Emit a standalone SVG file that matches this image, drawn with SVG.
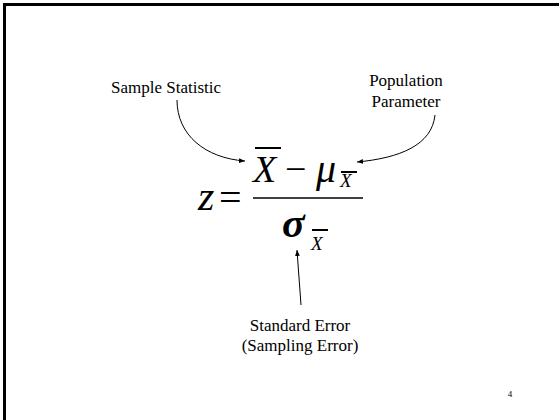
<svg xmlns="http://www.w3.org/2000/svg" width="559" height="420" viewBox="0 0 559 420">
<style>
text{font-family:'Liberation Serif','DejaVu Serif',serif;fill:#000}
.lbl{font-size:17px;text-anchor:middle}
.i{font-style:italic}
.conn{fill:none;stroke:#000;stroke-width:1}
.bar{stroke:#000;stroke-width:2}
</style>
<defs>
<marker id="ah" viewBox="0 0 10 10" refX="10" refY="5" markerWidth="6" markerHeight="6" orient="auto" markerUnits="userSpaceOnUse">
<path d="M0,1 L10,5 L0,9 Z" fill="#000"/>
</marker>
</defs>
<rect width="559" height="420" fill="#fff"/>
<path d="M4.5,420 V4.5 H559" fill="none" stroke="#000" stroke-width="3"/>
<g id="sample-statistic"><text class="lbl" x="166" y="93">Sample Statistic</text></g>
<g id="population-parameter"><text class="lbl" x="406" y="86">Population</text><text class="lbl" x="406" y="107">Parameter</text></g>
<g id="formula">
<text class="i" x="198" y="210" font-size="42">z</text>
<text x="219" y="211" font-size="40">=</text>
<text class="i" x="253" y="182" font-size="38">X</text>
<line class="bar" x1="255" y1="148" x2="281" y2="148"/>
<text x="285" y="182" font-size="38">−</text>
<text class="i" x="316" y="182" font-size="40">μ</text>
<text class="i" x="340" y="187" font-size="19">X</text>
<line class="bar" x1="341" y1="172" x2="357" y2="172" stroke-width="1.5"/>
<line x1="253" y1="198" x2="363" y2="198" stroke="#000" stroke-width="1.5"/>
<text class="i" x="282" y="237" font-size="42" font-weight="bold">σ</text>
<text class="i" x="311" y="250" font-size="19">X</text>
<line class="bar" x1="312" y1="230" x2="328" y2="230" stroke-width="1.5"/>
</g>
<g id="standard-error"><text class="lbl" x="300" y="331">Standard Error</text><text class="lbl" x="300" y="351">(Sampling Error)</text></g>
<g id="page-number"><text x="510" y="397" font-size="9" text-anchor="middle">4</text></g>
<g id="connectors">
<path class="conn" d="M177,100 C177,135 205,158 245,161" marker-end="url(#ah)"/>
<path class="conn" d="M435,115 C432,145 400,158 357,162" marker-end="url(#ah)"/>
<path class="conn" d="M301,305 L297,250" marker-end="url(#ah)"/>
</g>
</svg>
